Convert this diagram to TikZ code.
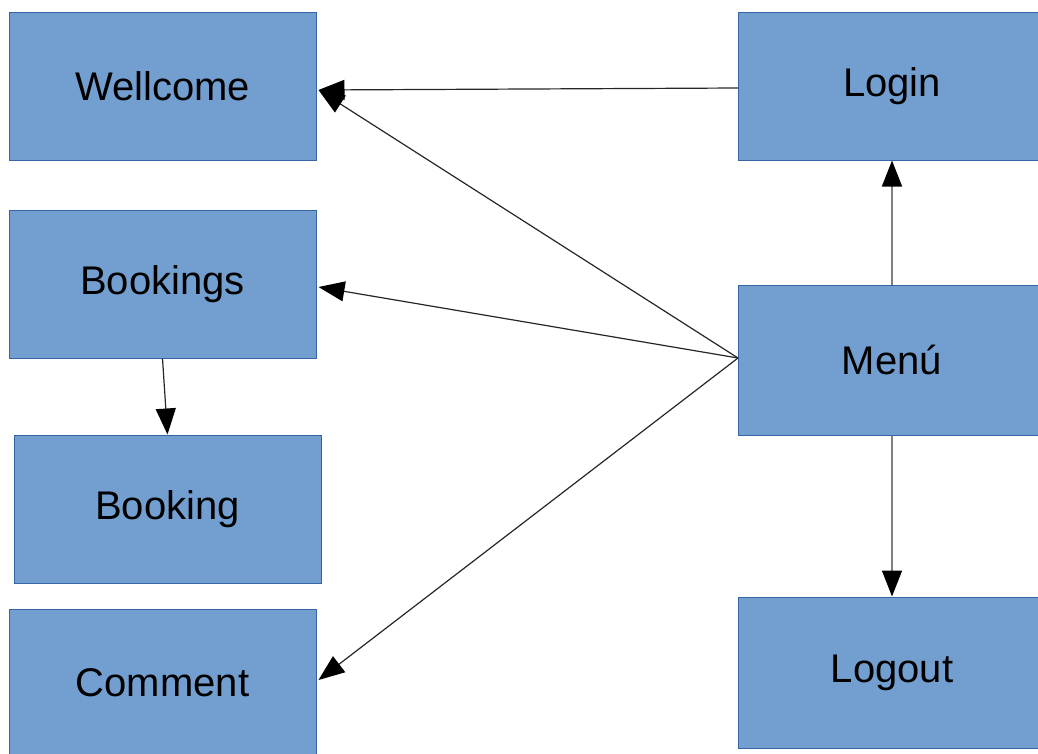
\documentclass[tikz,border=0pt]{standalone}
\usepackage{fontspec}
\setmainfont{Liberation Sans}
\usetikzlibrary{arrows.meta}
\definecolor{boxfill}{HTML}{729FCF}
\definecolor{boxline}{HTML}{3465A4}
\definecolor{linkgray}{HTML}{808080}
\tikzset{
  screen/.style={rectangle, fill=boxfill, draw=boxline, line width=1pt,
    minimum width=307pt, minimum height=148pt, inner sep=0pt,
    font=\fontsize{40}{48}\selectfont},
  link/.style={line width=1.2pt, draw=black!85,
    -{Triangle[length=26pt,width=20pt,color=black]}},
  vlink/.style={link, draw=linkgray, line width=1.6pt}
}
\begin{document}
\begin{tikzpicture}[x=1pt,y=-1pt]
  \useasboundingbox (0,0) rectangle (1038,753);
  % left column
  \node[screen] (wellcome) at (162.5,86) {Wellcome};
  \node[screen] (bookings) at (162.5,284) {Bookings};
  \node[screen] (booking)  at (167.5,509) {Booking};
  \node[screen] (comment)  at (162.5,683) {Comment};
  % right column
  \node[screen] (login)  at (892,86) {Login};
  \node[screen, minimum height=150pt] (menu)   at (892,360) {Menú};
  \node[screen, minimum height=151pt] (logout) at (892,672.5) {Logout};
  % connectors
  \draw[link] ([yshift=-2pt]login.west) -- ([xshift=2pt,yshift=-4pt]wellcome.east);
  \draw[link] ([yshift=2pt]menu.west) -- ([xshift=2pt,yshift=-4pt]wellcome.east);
  \draw[link] ([yshift=2pt]menu.west) -- ([xshift=2pt,yshift=-3pt]bookings.east);
  \draw[link] ([yshift=2pt]menu.west) -- ([xshift=2pt,yshift=3pt]comment.east);
  \draw[link] (bookings.south) -- (booking.north);
  \draw[vlink] (menu.north) -- (login.south);
  \draw[vlink] (menu.south) -- (logout.north);
\end{tikzpicture}
\end{document}
